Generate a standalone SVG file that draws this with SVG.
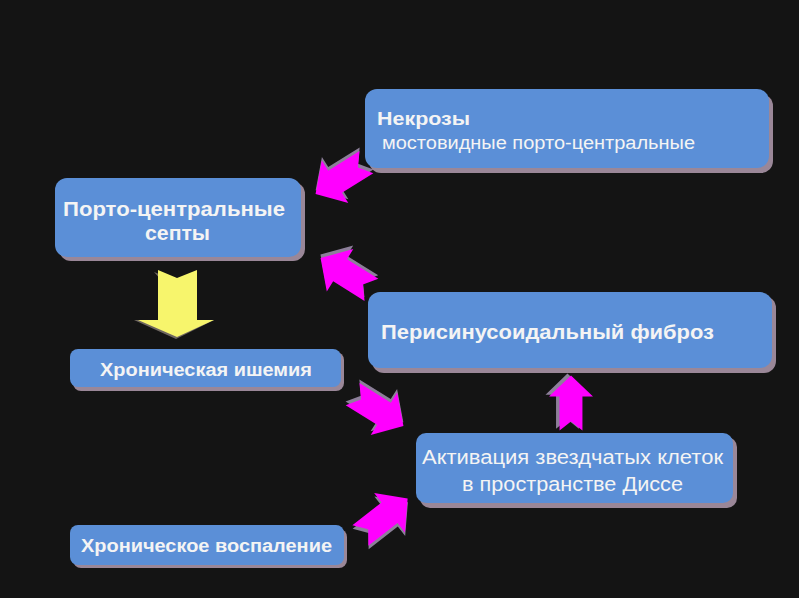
<svg xmlns="http://www.w3.org/2000/svg" xmlns:xlink="http://www.w3.org/1999/xlink" width="799" height="598" viewBox="0 0 799 598">
<style>
.box{fill:#5b8fd7;}
.sh{fill:#9a8798;}
.t{font-family:"Liberation Sans",Arial,sans-serif;fill:#f4f4f4;}
.b{font-weight:bold;}
.mag{fill:#ff00ff;}
.magsh{fill:#8d7f9a;}
</style>
<defs>
<path id="arr" d="M-30,-13 L7,-13 L7,-25 L30,0 L7,25 L7,13 L-30,13 L-20,0 Z"/>
</defs>
<rect width="799" height="598" fill="#141414"/>
<g id="connectors">
  <g id="a1" transform="translate(341,178) rotate(148)">
    <use xlink:href="#arr" class="magsh" transform="translate(-2,3)"/>
    <use xlink:href="#arr" class="mag"/>
  </g>
  <g id="a2" transform="translate(346,274) rotate(212)">
    <use xlink:href="#arr" class="magsh" transform="translate(2,3)"/>
    <use xlink:href="#arr" class="mag"/>
  </g>
  <g id="a3" transform="translate(378,410) rotate(32)">
    <use xlink:href="#arr" class="magsh" transform="translate(-2,-3)"/>
    <use xlink:href="#arr" class="mag"/>
  </g>
  <g id="a4" transform="translate(384,517) rotate(-38)">
    <use xlink:href="#arr" class="magsh" transform="translate(-2,3)"/>
    <use xlink:href="#arr" class="mag"/>
  </g>
  <g id="a5" transform="translate(571,403) rotate(-90) scale(0.92,0.88)">
    <use xlink:href="#arr" class="magsh" transform="translate(2,-4)"/>
    <use xlink:href="#arr" class="mag"/>
  </g>
  <g id="ay">
    <path d="M154,272 L174,280 L174,320 L134,320 L176,339 L214,320 L197,320 Z" fill="#6e6660"/>
    <path d="M158,270 L177,278 L197,270 L197,320 L214,320 L177,337 L138,320 L158,320 Z" fill="#f7f56c"/>
  </g>
</g>
<g id="n1">
  <rect class="sh" x="369" y="94" width="404" height="79" rx="12"/>
  <rect class="box" x="365" y="89" width="404" height="79" rx="12"/>
  <text class="t b" x="377" y="125" font-size="19" textLength="93" lengthAdjust="spacingAndGlyphs">Некрозы</text>
  <text class="t" x="382" y="149" font-size="18" textLength="313" lengthAdjust="spacingAndGlyphs">мостовидные порто-центральные</text>
</g>
<g id="n2">
  <rect class="sh" x="59" y="182" width="246" height="79" rx="12"/>
  <rect class="box" x="55" y="178" width="246" height="79" rx="12"/>
  <text class="t b" x="63" y="216" font-size="20" textLength="222" lengthAdjust="spacingAndGlyphs">Порто-центральные</text>
  <text class="t b" x="145" y="240" font-size="20" textLength="65" lengthAdjust="spacingAndGlyphs">септы</text>
</g>
<g id="n3">
  <rect class="sh" x="73" y="352" width="271" height="39" rx="8"/>
  <rect class="box" x="70" y="349" width="271" height="38" rx="8"/>
  <text class="t b" x="100" y="376" font-size="18" textLength="212" lengthAdjust="spacingAndGlyphs">Хроническая ишемия</text>
</g>
<g id="n4">
  <rect class="sh" x="372" y="296" width="404" height="77" rx="12"/>
  <rect class="box" x="368" y="292" width="404" height="76" rx="12"/>
  <text class="t b" x="381" y="339" font-size="20" textLength="333" lengthAdjust="spacingAndGlyphs">Перисинусоидальный фиброз</text>
</g>
<g id="n5">
  <rect class="sh" x="420" y="437" width="317" height="71" rx="10"/>
  <rect class="box" x="416" y="433" width="317" height="70" rx="10"/>
  <text class="t" x="422" y="464" font-size="20" textLength="301" lengthAdjust="spacingAndGlyphs">Активация звездчатых клеток</text>
  <text class="t" x="462" y="491" font-size="20" textLength="221" lengthAdjust="spacingAndGlyphs">в пространстве Диссе</text>
</g>
<g id="n6">
  <rect class="sh" x="73" y="529" width="274" height="39" rx="8"/>
  <rect class="box" x="70" y="525" width="274" height="40" rx="8"/>
  <text class="t b" x="81" y="552" font-size="18" textLength="251" lengthAdjust="spacingAndGlyphs">Хроническое воспаление</text>
</g>
</svg>
